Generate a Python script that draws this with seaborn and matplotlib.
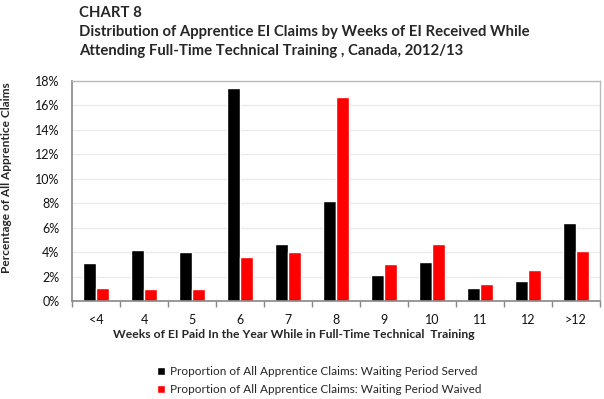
import matplotlib
matplotlib.use("Agg")
import matplotlib.pyplot as plt
import seaborn as sns
import pandas as pd
from matplotlib.ticker import FixedLocator, PercentFormatter

categories = ["<4", "4", "5", "6", "7", "8", "9", "10", "11", "12", ">12"]
served = [3.1, 4.2, 4.0, 17.4, 4.7, 8.2, 2.1, 3.2, 1.1, 1.6, 6.4]
waived = [1.1, 1.0, 1.0, 3.6, 4.0, 16.7, 3.0, 4.7, 1.4, 2.5, 4.1]
series_names = ["Proportion of All Apprentice Claims: Waiting Period Served",
                "Proportion of All Apprentice Claims: Waiting Period Waived"]
yticks = list(range(0, 19, 2))

df = pd.DataFrame({
    "cat": categories * 2,
    "val": served + waived,
    "series": [series_names[0]] * len(categories) + [series_names[1]] * len(categories),
})

sns.set_theme(style="white")
plt.rcParams['font.family'] = ['Lato', 'DejaVu Sans']

W, H = 604, 399
fig = plt.figure(figsize=(W / 100, H / 100), dpi=100)
left, right, top, bottom = 72, 600, 81, 301
ax = fig.add_axes([left / W, 1 - bottom / H, (right - left) / W, (bottom - top) / H])

sns.barplot(data=df, x="cat", y="val", hue="series", order=categories,
            hue_order=series_names, palette=["#000000", "#ff0000"],
            width=0.56, saturation=1, ax=ax, legend=True)

ax.set_ylim(0, 18)
ax.set_xlim(-0.5, len(categories) - 0.5)
ax.yaxis.set_major_locator(FixedLocator(yticks))
ax.yaxis.set_major_formatter(PercentFormatter(decimals=0))
ax.grid(axis="y", color="#ebebeb", linewidth=1)
ax.set_axisbelow(True)

for s in ["top", "right"]:
    ax.spines[s].set_color("#bbbbbb")
    ax.spines[s].set_linewidth(1.0)
for s in ["left", "bottom"]:
    ax.spines[s].set_color("#888888")
    ax.spines[s].set_linewidth(1.2)

ax.tick_params(axis="x", which="major", length=0, labelsize=9, pad=9, labelcolor="#111111")
ax.tick_params(axis="y", which="major", length=0, labelsize=9, pad=9, labelcolor="#111111")
ax.set_xticks([i - 0.5 for i in range(len(categories) + 1)], minor=True)
ax.tick_params(axis="x", which="minor", bottom=True, length=4, width=1, color="#888888", direction="out")
ax.set_yticks(yticks, minor=True)
ax.tick_params(axis="y", which="minor", left=True, length=4, width=1, color="#888888", direction="out")

ax.set_xlabel("Weeks of EI Paid In the Year While in Full-Time Technical  Training",
              fontsize=8.7, fontweight="bold")
ax.xaxis.set_label_coords((293.5 - left) / (right - left), -(329 - bottom) / (bottom - top))
ax.set_ylabel("Percentage of All Apprentice Claims", fontsize=8.6, fontweight="bold")
ax.yaxis.set_label_coords(-(left - 12) / (right - left), (bottom - 178) / (bottom - top))

ax.legend(loc="center left", bbox_to_anchor=(151 / W, 1 - 380.5 / H), bbox_transform=fig.transFigure,
          frameon=False, fontsize=8.5, handlelength=0.65, handleheight=0.65,
          handletextpad=0.45, labelspacing=0.55, borderpad=0)

fig.text(79 / W, 1 - 6 / H, "CHART 8", fontsize=10.7, fontweight="bold", va="top")
fig.text(79 / W, 1 - 25 / H, "Distribution of Apprentice EI Claims by Weeks of EI Received While",
         fontsize=10.7, fontweight="bold", va="top")
fig.text(79 / W, 1 - 44 / H, "Attending Full-Time Technical Training , Canada, 2012/13",
         fontsize=10.7, fontweight="bold", va="top")

fig.savefig("out.png", dpi=100)
